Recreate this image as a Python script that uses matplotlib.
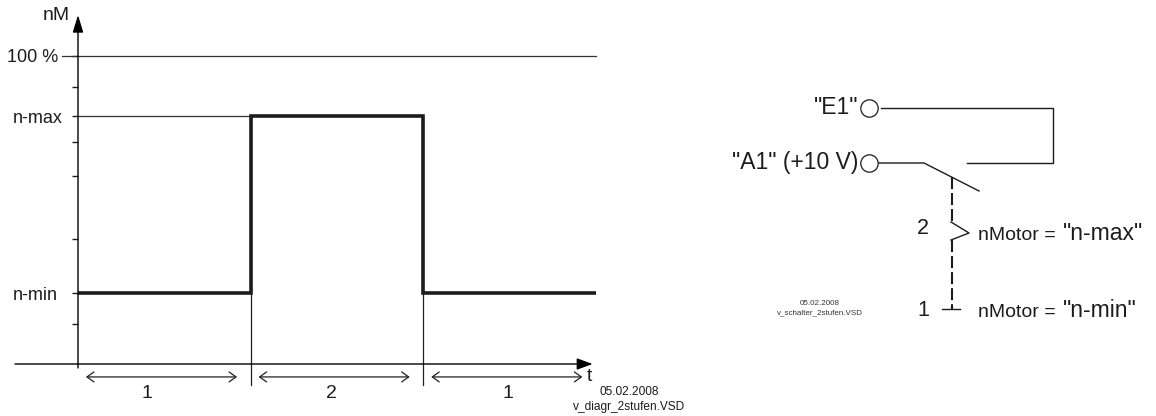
import matplotlib
matplotlib.use("Agg")
import matplotlib.pyplot as plt

plt.rcParams['font.family'] = ['Liberation Sans', 'DejaVu Sans']

W, H = 1156, 416
INK = '#1c1c1c'

# speed over time (time in switching phases, speed in % of 100 % line)
time_steps = [0, 1, 1, 2, 2, 3]
speed_steps = [23, 23, 80.5, 80.5, 23, 23]
level_ticks = [23, 80.5, 100]
level_labels = ['n-min', 'n-max', '100 %']
level_pads = [10, 7, 10]
minor_ticks = [13, 40.5, 61, 72, 90]
phase_edges = [0, 1, 2, 3]
phase_labels = ['1', '2', '1']
phase_label_x = [0.40, 1.465, 2.49]

# switch drawing, in pixels of the picture
terminal_names = ['"E1"', '"A1" (+10 V)']
terminal_x = [869, 869]
terminal_y = [108, 163]
wire_e1_x = [881, 1053, 1053, 967]
wire_e1_y = [108, 108, 163, 163]
wire_a1_x = [878, 924, 979]
wire_a1_y = [163, 163, 191]
link_top_y = [177, 222]
link_bottom_y = [240, 309]
link_x = 952
chevron_x = [951, 969, 951]
chevron_y = [222, 233, 240]
stop_x = [942, 960]
stop_y = [309, 309]
position_names = ['2', '1']
position_y = [229, 310]
motor_values = ['"n-max"', '"n-min"']
motor_y = [240, 317]

fig = plt.figure(figsize=(W / 100, H / 100), dpi=100)

# full-picture layer for the switch
sk = fig.add_axes([0, 0, 1, 1])
sk.set_xlim(0, W)
sk.set_ylim(H, 0)
sk.axis('off')

ax = fig.add_axes([78 / W, (H - 364) / H, (596 - 78) / W, (364 - 56) / H])
ax.set_xlim(0, 3)
ax.set_ylim(0, 100)
ax.patch.set_alpha(0)
for s in ax.spines.values():
    s.set_visible(False)

ax.set_xticks([])
ax.set_yticks(level_ticks)
ax.set_yticklabels(level_labels, fontsize=13, color=INK)
ax.set_yticks(minor_ticks, minor=True)
ax.tick_params(axis='y', which='both', length=4.3, width=1, color=INK)
for tick, pad in zip(ax.yaxis.get_major_ticks(), level_pads):
    tick.set_pad(pad)

# thin guide lines
ax.plot([-0.09, 3], [100, 100], color='#333333', lw=0.9, clip_on=False)
ax.plot([0, 1], [80.5, 80.5], color='#333333', lw=0.9, clip_on=False)
for x in phase_edges[1:3]:
    ax.plot([x, x], [-6.8, 80.5], color='#222222', lw=0.9, clip_on=False)

ax.plot(time_steps, speed_steps, color=INK, lw=2.6, solid_joinstyle='miter',
        solid_capstyle='butt', clip_on=False, zorder=3)

# axes with filled arrow heads
ax.annotate('', xy=(0, 113.3), xytext=(0, -1.3), annotation_clip=False,
            arrowprops=dict(arrowstyle='-|>,head_length=1.05,head_width=0.32', color='black',
                            lw=1, shrinkA=0, shrinkB=0))
ax.annotate('', xy=(2.98, 0), xytext=(-0.365, 0), annotation_clip=False,
            arrowprops=dict(arrowstyle='-|>,head_length=0.95,head_width=0.35', color='black',
                            lw=1, shrinkA=0, shrinkB=0))
ax.text(-0.046, 113.3, 'nM', ha='right', va='center', fontsize=14, color=INK, clip_on=False)
ax.text(2.947, -4.2, 't', ha='left', va='center', fontsize=14, color=INK, clip_on=False)

# phase dimension arrows
for i in range(3):
    ax.annotate('', xy=(phase_edges[i + 1], -4.2), xytext=(phase_edges[i], -4.2),
                annotation_clip=False,
                arrowprops=dict(arrowstyle='<->,head_length=0.5,head_width=0.36', color='#222222',
                                lw=0.9, shrinkA=5.7, shrinkB=9.8))
    ax.text(phase_label_x[i], -9.6, phase_labels[i], ha='center', va='center',
            fontsize=14, color=INK)

sk.text(629, 392, '05.02.2008', ha='center', va='center', fontsize=8.6, color=INK)
sk.text(629, 407, 'v_diagr_2stufen.VSD', ha='center', va='center', fontsize=8.6, color=INK)

# switch
for name, x, y in zip(terminal_names, terminal_x, terminal_y):
    sk.plot([x], [y], 'o', ms=12.5, mfc='white', mec=INK, mew=0.9, zorder=3)
    sk.text(x - 11, y, name, ha='right', va='center', fontsize=16.5, color=INK)
sk.plot(wire_e1_x, wire_e1_y, color=INK, lw=1)
sk.plot(wire_a1_x, wire_a1_y, color=INK, lw=1)
sk.plot(chevron_x, chevron_y, color=INK, lw=1)
for ys in (link_top_y, link_bottom_y):
    sk.plot([link_x, link_x], ys, color=INK, lw=1.5, ls=(0, (5.8, 1.9)))
sk.plot(stop_x, stop_y, color=INK, lw=1)

for name, y in zip(position_names, position_y):
    sk.text(923, y, name, ha='center', va='center', fontsize=15.5, color=INK)
for val, y in zip(motor_values, motor_y):
    sk.text(978, y, 'nMotor =', ha='left', va='baseline', fontsize=14, color=INK)
    sk.text(1063, y, val, ha='left', va='baseline', fontsize=16.5, color=INK)

sk.text(820, 303.5, '05.02.2008', ha='center', va='center', fontsize=5.8, color='#333333')
sk.text(820, 313, 'v_schalter_2stufen.VSD', ha='center', va='center', fontsize=5.8, color='#333333')

fig.savefig('out.png', dpi=100)
